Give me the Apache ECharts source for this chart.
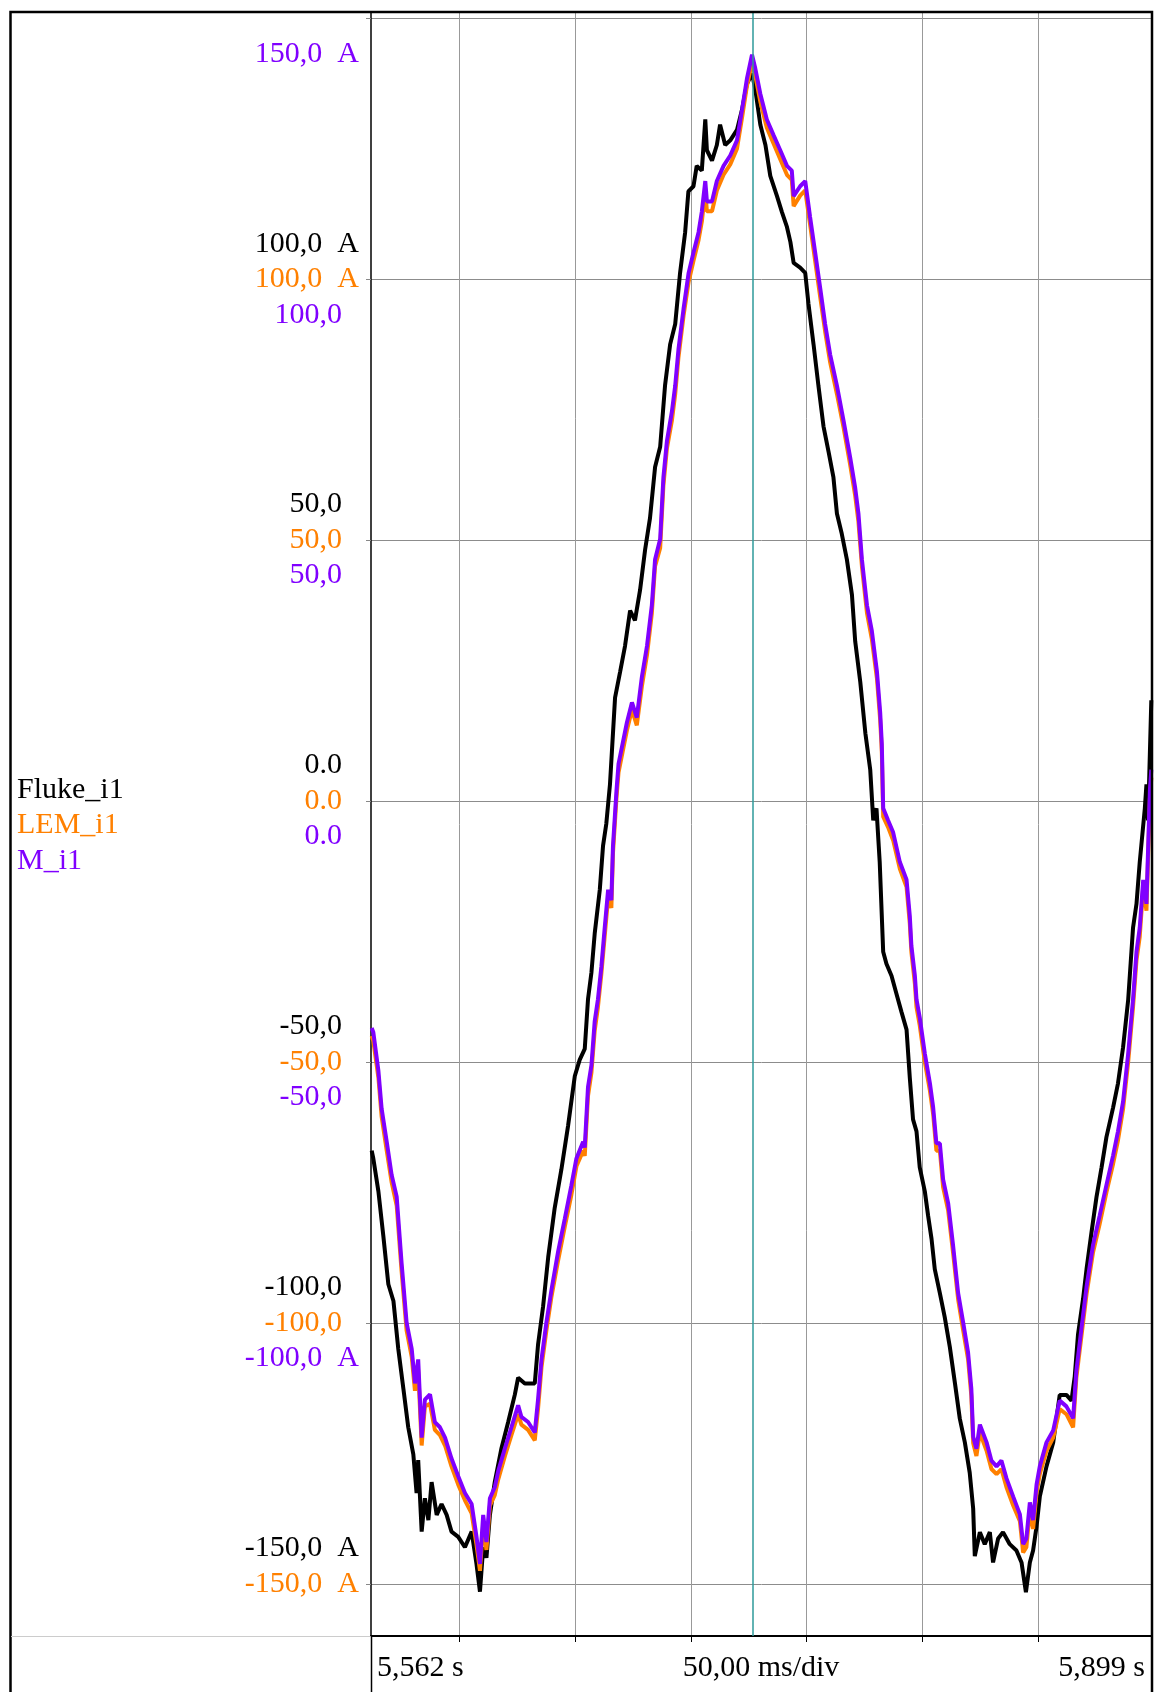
<!DOCTYPE html>
<html><head><meta charset="utf-8">
<script src="https://cdn.jsdelivr.net/npm/echarts@6/dist/echarts.min.js"></script>
<style>html,body{margin:0;padding:0;background:#fff}#c{width:1155px;height:1692px}</style>
</head><body><div id="c"></div><script>
const seriesNames = ['Fluke_i1', 'LEM_i1', 'M_i1'];
const seriesColors = ['#000000', '#ff8000', '#8000ff'];

// y tick values and their per-channel labels (top to bottom)
const yTicks = [150, 100, 50, 0, -50, -100, -150];
const flukeTickLabels = ['', '100,0  A', '50,0', '0.0', '-50,0', '-100,0', '-150,0  A'];
const lemTickLabels   = ['', '100,0  A', '50,0', '0.0', '-50,0', '-100,0', '-150,0  A'];
const mTickLabels     = ['150,0  A', '100,0', '50,0', '0.0', '-50,0', '-100,0  A', ''];

// time axis (ms)
const xMin = 5561.7, xMax = 5899.3;
const yMin = -160, yMax = 151;
const xGridTicks = [5600, 5650, 5700, 5750, 5800, 5850];
const xLabelValues = [5561.7, 5730.5, 5899.3];
const xLabels = ['5,562 s', '50,00 ms/div', '5,899 s'];
const cursorTime = 5726.8;

// Fluke_i1 (black)
const flukeTime = [
5562.0,5562.7,5564.9,5567.0,5569.2,5571.4,5573.5,5575.7,5577.8,5580.0,
5581.4,5582.1,5583.6,5585.0,5586.5,5587.9,5590.1,5592.2,5594.4,5596.5,
5599.4,5602.3,5605.2,5607.3,5608.8,5610.2,5611.6,5613.1,5615.2,5618.1,
5621.0,5623.9,5625.3,5628.2,5632.5,5633.9,5636.1,5638.3,5641.1,5644.0,
5646.9,5649.8,5651.9,5654.1,5655.5,5657.0,5658.4,5660.6,5662.0,5663.4,
5665.0,5667.2,5669.4,5671.5,5673.7,5675.8,5678.0,5680.2,5682.3,5684.5,
5686.7,5688.8,5691.0,5693.2,5695.3,5697.5,5698.9,5701.1,5702.5,5704.7,
5706.2,5706.9,5709.1,5711.2,5712.6,5714.8,5717.0,5719.9,5722.1,5724.2,
5726.4,5727.8,5730.0,5732.2,5734.3,5737.2,5739.3,5741.5,5743.0,5744.4,
5747.2,5749.4,5750.8,5753.0,5755.1,5757.3,5759.5,5761.6,5763.1,5765.2,
5767.4,5769.6,5771.0,5773.2,5775.4,5777.5,5778.8,5780.2,5781.6,5783.1,
5784.5,5786.7,5788.8,5791.0,5793.2,5794.6,5796.0,5797.5,5798.9,5801.1,
5802.5,5804.0,5805.4,5807.6,5809.7,5811.9,5814.1,5816.2,5818.4,5820.5,
5822.0,5822.7,5824.9,5827.0,5829.2,5830.6,5832.8,5834.9,5837.8,5840.7,
5842.9,5844.8,5846.5,5847.9,5849.4,5850.8,5853.7,5856.6,5859.4,5862.3,
5864.5,5865.9,5867.3,5869.5,5871.0,5873.1,5875.3,5877.5,5879.6,5882.5,
5884.6,5886.8,5889.0,5891.1,5892.6,5894.0,5896.2,5896.9,5897.6,5899.0];
const flukeI = [
-67,-68.5,-74.8,-83.2,-92.6,-95.8,-105,-112.6,-120,-125.2,
-132.6,-126.3,-140,-133.6,-137.8,-130.5,-136.8,-134.7,-136.8,-140,
-141,-143,-140,-146.2,-151.5,-143,-145,-136.8,-130.5,-124,
-119,-113.7,-110.5,-111.6,-111.6,-104.2,-96.8,-87.4,-78,-70.6,
-62.2,-52.7,-49.6,-47.5,-38,-32.8,-25.4,-17,-8.6,-4.4,
3.2,19.8,24.8,29.7,36.5,34.6,40.4,48.2,54.2,64,
67.9,79.6,87.5,91.4,101.2,109,116.8,117.8,121.7,120.8,
130.6,124.7,122.7,125.7,129.6,125.7,126.6,128.6,132.5,137.4,
139.4,136.4,129.6,125.7,119.8,115.9,112.9,110,107.1,103.1,
102.2,101.2,95.3,87.5,79.6,71.8,66.9,62,55.1,51.2,
46.3,39.5,30.6,22.8,13,6,-3.7,-1.4,-11.7,-28.9,
-31.2,-33.5,-36.9,-40.4,-43.8,-53,-61,-63.3,-70.2,-74.8,
-79.4,-83.9,-89.7,-94.3,-98.9,-104.6,-111.5,-118.3,-122.9,-128.7,
-135.6,-144.7,-140.1,-142.4,-140.1,-145.9,-141.3,-140.1,-142.4,-143.6,
-145.9,-151.6,-145.9,-143.6,-139,-133.3,-127.5,-122.9,-113.8,-113.8,
-114.9,-110.3,-102.3,-95.4,-89.7,-82.8,-75.9,-70.2,-64.4,-58.7,
-54.1,-47.2,-38.1,-24.3,-19.7,-11.7,-1.4,3.2,-3.7,19.3];

// M_i1 (purple) and LEM_i1 (orange) share sample times
const mTime = [
5562.0,5562.7,5564.9,5566.3,5568.5,5570.6,5572.8,5574.9,5577.1,5579.3,
5580.7,5582.1,5583.6,5585.0,5587.2,5589.3,5591.5,5593.7,5596.5,5599.4,
5602.3,5605.2,5607.3,5608.8,5610.2,5611.6,5613.1,5615.2,5616.7,5619.6,
5622.4,5625.3,5626.7,5629.6,5632.5,5633.9,5635.4,5637.5,5639.7,5642.6,
5645.5,5648.3,5650.5,5653.4,5654.1,5655.5,5657.0,5658.4,5659.8,5661.3,
5662.7,5664.2,5665.6,5666.3,5667.8,5668.7,5672.3,5674.5,5676.6,5678.8,
5681.0,5683.1,5684.5,5686.7,5688.1,5689.6,5691.8,5693.2,5694.6,5696.8,
5699.0,5701.1,5703.3,5704.7,5706.2,5706.9,5709.1,5711.2,5714.1,5717.0,
5719.9,5722.1,5724.2,5726.4,5727.8,5730.0,5732.8,5735.7,5738.6,5741.5,
5743.6,5744.4,5747.2,5749.4,5751.5,5753.7,5755.9,5758.0,5760.2,5763.1,
5766.0,5768.8,5771.0,5772.4,5773.9,5776.1,5778.2,5780.4,5781.8,5782.5,
5783.1,5785.2,5787.4,5790.3,5793.2,5794.6,5795.3,5796.8,5797.5,5798.9,
5801.1,5803.3,5804.7,5806.1,5807.6,5809.0,5811.2,5813.3,5815.5,5817.7,
5819.8,5821.2,5822.0,5823.4,5824.9,5827.8,5829.9,5832.1,5834.2,5836.4,
5839.3,5842.2,5843.6,5845.0,5846.5,5847.9,5849.4,5850.8,5853.7,5856.6,
5859.4,5862.3,5865.2,5866.6,5868.8,5871.0,5873.8,5876.7,5879.6,5882.5,
5884.6,5886.8,5889.0,5891.1,5892.6,5894.0,5895.5,5896.9,5897.6,5898.4,
5899.0];
const mI = [
-43.5,-44.3,-51.7,-59,-65.3,-71.6,-75.8,-88.4,-100,-105,
-111.6,-107,-122,-114.7,-113.7,-119,-120,-122,-126,-129.4,
-132.6,-134.7,-141,-146.2,-136.8,-142,-133.6,-131.5,-128.4,-124,
-120,-115.8,-118,-119,-121,-114.7,-107,-100,-93.7,-86.3,
-80,-73.7,-68.5,-65.3,-66.4,-54.8,-50.6,-42.2,-38,-31.7,
-24.4,-17,-19,-8.6,1.9,7.1,15,18.9,16,23.8,
29.7,37.5,46.3,50.2,62,68.9,74.7,79.6,86.5,94.3,
101.2,105.1,109,112.9,118.8,114.9,114.9,118.8,121.7,123.7,
126.6,132.5,138.4,143,140.4,135.5,130.6,127.6,124.7,121.7,
120.8,115.9,117.8,118.8,111.9,105.1,98.2,91.4,85.5,79.6,
72.8,65.9,60,55.1,46.3,37.5,32.6,24.8,17,11,
-1.4,-3.7,-6,-11.7,-15.1,-22,-27.8,-33.5,-38,-41.5,
-48.4,-54.1,-58.7,-65.6,-65.6,-72.5,-77.1,-85.1,-94.3,-100,
-105.7,-112.6,-121.8,-124.1,-119.5,-122.9,-126.4,-127.5,-126.4,-129.8,
-133.3,-136.7,-142.4,-141.3,-134.4,-137.8,-131,-127.5,-122.9,-120.6,
-114.9,-116,-118.3,-109.2,-101.1,-93.1,-85.1,-79.4,-73.6,-67.9,
-63.3,-57.6,-48.4,-38,-28.9,-24.3,-15.1,-19.7,-9.4,2.1,
6];
const lemI = [
-45,-46,-53,-60.5,-67,-73,-77.5,-90,-101.5,-106.5,
-113,-109,-123.5,-116,-115.5,-120.5,-121.5,-123.5,-127.5,-131,
-134,-136.5,-142.5,-147.5,-138.5,-143.5,-135,-133,-130,-125.5,
-121.5,-117.5,-119.5,-120.5,-122.5,-116.5,-108.5,-101.5,-95,-88,
-81.5,-75.5,-70,-67,-68,-56.5,-52,-44,-39.5,-33,
-26,-18.5,-20.5,-10,0.5,5.5,13.5,17.5,14.5,22,
28,36,45,48.5,60.5,67.5,73,78,85,93,
99.5,103.5,107.5,111,117,113,113,117,120,122,
125,131,137,141.5,139,134,129,126,123,120,
119,114,116,117,110.5,103.5,96.5,90,84,78,
71.5,64.5,58.5,53.5,45,36,31,23.5,15.5,9.5,
-3,-5,-7.5,-13,-16.5,-23.5,-29,-35,-39.5,-43,
-50,-55.5,-60,-67,-67,-74,-78.5,-86.5,-95.5,-101.5,
-107,-114,-123,-125.5,-121,-124.5,-128,-129,-128,-131.5,
-135,-138,-144,-143,-136,-139.5,-132.5,-129,-124.5,-122,
-116.5,-117.5,-120,-110.5,-102.5,-94.5,-86.5,-81,-75,-69.5,
-65,-59,-50,-39.5,-30.5,-26,-16.5,-21,-11,0.5,
4.5];

function pairs(t, v) { const n = Math.min(t.length, v.length); const out = []; for (let i = 0; i < n; i++) out.push([t[i], v[i]]); return out; }

const FONT = 'Liberation Serif';
const LH = 35.5;
function tok(key, txt) {
  if (!txt) return '{e|\u00a0}';
  return txt.indexOf('A') >= 0 ? '{' + key + '|' + txt + '}' : '{' + key + 'n|' + txt + '}';
}
function richStyle(color, padRight) {
  return { color: color, fontFamily: FONT, fontSize: 30, lineHeight: LH, align: 'right', padding: [0, padRight, 0, 0] };
}

const chart = echarts.init(document.getElementById('c'), null, { renderer: 'canvas' });
const option = {
  animation: false,
  backgroundColor: '#ffffff',
  grid: { left: 371, right: 3, top: 13, bottom: 56, containLabel: false, outerBoundsMode: 'none' },
  legend: {
    orient: 'vertical', left: 7, top: 767, itemWidth: 0, itemHeight: 0, itemGap: 0,
    icon: 'rect', selectedMode: false,
    textStyle: { fontFamily: FONT, fontSize: 30, lineHeight: LH },
    data: seriesNames.map((n, i) => ({ name: n, textStyle: { color: seriesColors[i] } }))
  },
  xAxis: {
    type: 'value', min: xMin, max: xMax,
    axisLine: { onZero: false, lineStyle: { color: '#000', width: 2 } },
    axisTick: { show: true, length: 6, customValues: xGridTicks, lineStyle: { color: '#000', width: 1 } },
    splitLine: { show: true, lineStyle: { color: '#999999', width: 1 } },
    axisLabel: {
      customValues: xLabelValues, margin: 17, alignMinLabel: 'left', alignMaxLabel: 'right',
      padding: [0, 7, 0, 6],
      fontFamily: FONT, fontSize: 30, color: '#000',
      formatter: function (v) {
        for (let i = 0; i < xLabelValues.length; i++) if (Math.abs(xLabelValues[i] - v) < 0.05) return xLabels[i];
        return '';
      }
    }
  },
  yAxis: {
    type: 'value', min: yMin, max: yMax,
    axisLine: { show: true, onZero: false, lineStyle: { color: '#000', width: 1.5 } },
    axisTick: { show: true, length: 5, customValues: yTicks, lineStyle: { color: '#888', width: 1 } },
    splitLine: { show: true, lineStyle: { color: '#8c8c8c', width: 1 } },
    axisLabel: {
      customValues: yTicks, margin: 12, verticalAlign: 'middle', align: 'right',
      formatter: function (v) {
        let i = -1;
        for (let k = 0; k < yTicks.length; k++) if (Math.abs(yTicks[k] - v) < 1e-6) i = k;
        if (i < 0) return '';
        return tok('k', flukeTickLabels[i]) + '\n' + tok('o', lemTickLabels[i]) + '\n' + tok('p', mTickLabels[i]);
      },
      rich: {
        k: richStyle(seriesColors[0], 0), kn: richStyle(seriesColors[0], 17),
        o: richStyle(seriesColors[1], 0), on: richStyle(seriesColors[1], 17),
        p: richStyle(seriesColors[2], 0), pn: richStyle(seriesColors[2], 17),
        e: richStyle('#ffffff', 0)
      }
    }
  },
  series: [
    { name: seriesNames[0], type: 'line', data: pairs(flukeTime, flukeI), showSymbol: false, symbol: 'none',
      lineStyle: { color: seriesColors[0], width: 4 }, itemStyle: { color: seriesColors[0] }, z: 2 },
    { name: seriesNames[1], type: 'line', data: pairs(mTime, lemI), showSymbol: false, symbol: 'none',
      lineStyle: { color: seriesColors[1], width: 4 }, itemStyle: { color: seriesColors[1] }, z: 3 },
    { name: seriesNames[2], type: 'line', data: pairs(mTime, mI), showSymbol: false, symbol: 'none',
      lineStyle: { color: seriesColors[2], width: 4 }, itemStyle: { color: seriesColors[2] }, z: 4,
      markLine: { silent: true, symbol: 'none', label: { show: false }, animation: false,
        lineStyle: { color: '#2e9a9a', width: 1.5, type: 'solid' },
        data: [{ xAxis: cursorTime }] } }
  ],
  graphic: [
    { type: 'rect', silent: true, z: 100, shape: { x: 10.5, y: 12, width: 1141.5, height: 1720 },
      style: { fill: null, stroke: '#000', lineWidth: 2.5 } },
    { type: 'line', silent: true, z: 100, shape: { x1: 11, y1: 1636.5, x2: 371, y2: 1636.5 },
      style: { stroke: '#cccccc', lineWidth: 1 } },
    { type: 'line', silent: true, z: 100, shape: { x1: 371.5, y1: 1636, x2: 371.5, y2: 1692 },
      style: { stroke: '#000', lineWidth: 1.5 } }
  ]
};
chart.setOption(option);
</script></body></html>
